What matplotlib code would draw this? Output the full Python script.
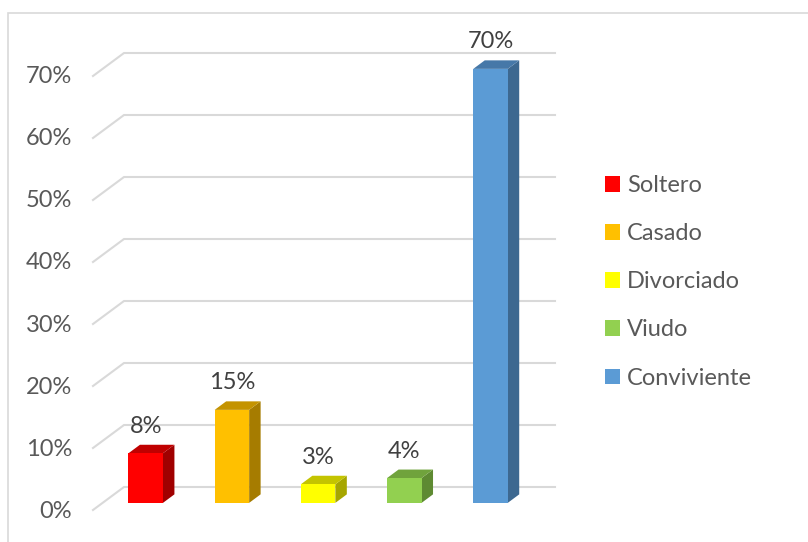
import matplotlib.pyplot as plt
from matplotlib.patches import Polygon, Rectangle, Patch

categorias = ['Soltero', 'Casado', 'Divorciado', 'Viudo', 'Conviviente']
porcentajes = [8, 15, 3, 4, 70]
ticks = [0, 10, 20, 30, 40, 50, 60, 70]

frente = ['#FF0000', '#FFC000', '#FFFF00', '#92D050', '#5B9BD5']
techo = ['#C00000', '#C49300', '#C4C400', '#70A33C', '#4678A8']
lado = ['#A00000', '#A67C00', '#A6A600', '#5E8A32', '#3D6890']

plt.rcParams['font.family'] = ['Lato', 'DejaVu Sans']

fig = plt.figure(figsize=(8.08, 5.42), dpi=100)
ax = fig.add_axes([0, 0, 1, 1])

# escala: px por categoria y px por punto porcentual
px_x, px_y = 86.2, 6.2
x0, y0 = 93, 510
ax.set_xlim(-x0 / px_x, (808 - x0) / px_x)
ax.set_ylim(-(542 - y0) / px_y, y0 / px_y)
ax.axis('off')

# profundidad del grafico (perspectiva oblicua)
dx, dy = 31 / px_x, 23 / px_y
n = len(categorias)

# marco exterior
fig.patches.append(Rectangle((8 / 808, -0.1), 1.2, 1 - 13 / 542 + 0.1, transform=fig.transFigure,
                             fill=False, edgecolor='#D9D9D9', linewidth=1.2))

# lineas de division y etiquetas del eje
for t in ticks:
    ax.plot([0, dx, n + dx], [t, t + dy, t + dy], color='#D9D9D9', linewidth=1.5, zorder=1)
    ax.annotate(f'{t}%', (0, t), xytext=(-21, -1), textcoords='offset pixels',
                ha='right', va='center', fontsize=17, color='#595959')

# columnas 3D
z0, prof, ancho = 0.31, 0.37, 0.40
for i, v in enumerate(porcentajes):
    xl = i + 0.5 - ancho / 2 + z0 * dx
    xr = xl + ancho
    yb = z0 * dy
    ex, ey = prof * dx, prof * dy
    ax.add_patch(Polygon([(xr, yb), (xr + ex, yb + ey), (xr + ex, yb + ey + v), (xr, yb + v)],
                         facecolor=lado[i], edgecolor='none', zorder=3))
    ax.add_patch(Polygon([(xl, yb + v), (xr, yb + v), (xr + ex, yb + v + ey), (xl + ex, yb + v + ey)],
                         facecolor=techo[i], edgecolor='none', zorder=3))
    ax.add_patch(Rectangle((xl, yb), ancho, v, facecolor=frente[i], edgecolor='none', zorder=4))
    ax.annotate(f'{v}%', ((xl + xr) / 2, yb + v), xytext=(0, 27), textcoords='offset pixels',
                ha='center', va='center', fontsize=17, color='#404040', zorder=5)

handles = [Patch(facecolor=c, edgecolor='none') for c in frente]
fig.legend(handles, categorias, loc='upper left', bbox_to_anchor=(605 / 808, 1 - 175 / 542),
           frameon=False, fontsize=17, labelcolor='#595959', handlelength=0.64, handleheight=0.64,
           handletextpad=0.3, labelspacing=1.15, borderaxespad=0, borderpad=0)

fig.savefig('out.png', dpi=100)
